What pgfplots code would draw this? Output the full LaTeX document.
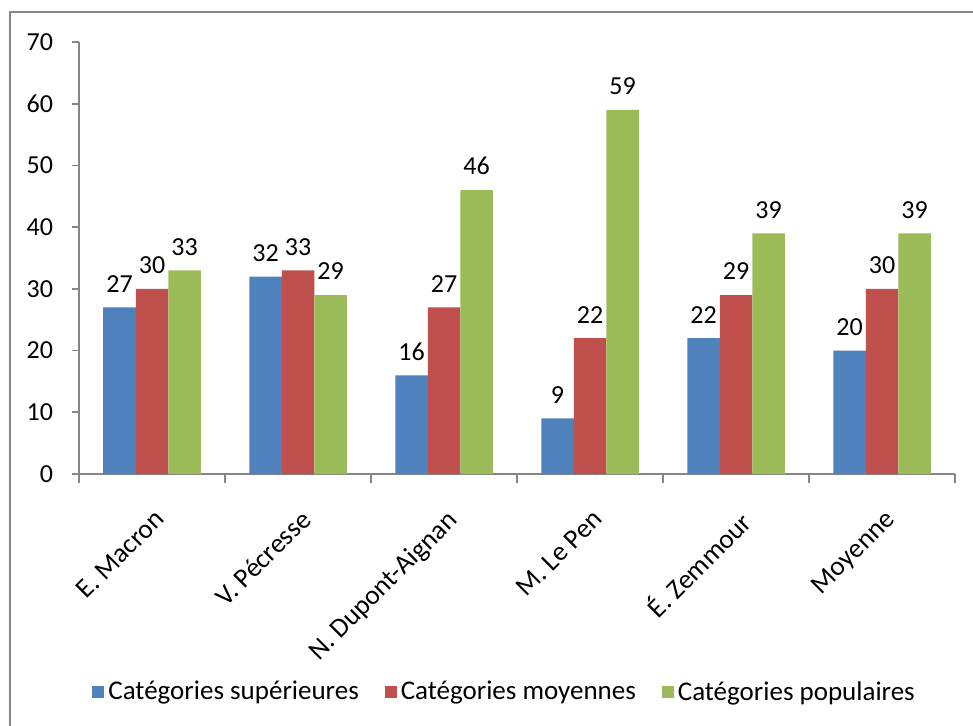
\documentclass[border=0pt]{standalone}
\usepackage{pgfplots}
\pgfplotsset{compat=1.18}
\usepackage{fontspec}
\setmainfont{Carlito}
\definecolor{cblue}{HTML}{4F81BD}
\definecolor{cred}{HTML}{C0504D}
\definecolor{cgreen}{HTML}{9BBB59}
\definecolor{axgray}{HTML}{868686}
\begin{document}
\begin{tikzpicture}
\path[use as bounding box] (0,0) rectangle (486.5pt,-363pt);
\draw[color=axgray, line width=1pt] (5pt,-380pt) -- (5pt,-6pt) -- (495pt,-6pt);
\begin{axis}[
  at={(39.5pt,-237pt)}, anchor=south west,
  scale only axis, width=438pt, height=216pt,
  font=\fontsize{13}{15}\selectfont,
  /pgf/number format/assume math mode=true,
  ybar=0pt, bar width=16.25pt,
  xmin=-0.5, xmax=5.5, ymin=0, ymax=70,
  axis lines=left, axis line style={-, color=axgray, line width=0.8pt},
  tick style={color=axgray, line width=0.8pt},
  tick align=outside,
  xtick={0,...,5},
  xticklabels={E. Macron, V. Pécresse, N. Dupont-Aignan, M. Le Pen, É. Zemmour, Moyenne},
  x tick label style={font=\fontsize{13.6}{16}\selectfont, rotate=45, anchor=north east, inner sep=1pt, yshift=-9pt, xshift=-8pt},
  major x tick style={draw=none},
  minor xtick={-0.5,0.5,...,5.5},
  minor tick length=4.5pt,
  ytick={0,10,...,70},
  major tick length=3.5pt,
  y tick label style={xshift=-6pt},
  nodes near coords,
  nodes near coords style={font=\fontsize{13}{15}\selectfont, color=black, yshift=4pt},
  every axis plot/.append style={draw=none},
  legend columns=3,
  legend style={at={(0.487,-0.505)}, anchor=center, draw=none, font=\fontsize{13.5}{16}\selectfont,
    /tikz/every even column/.append style={column sep=11pt}},
  legend image code/.code={\fill[#1] (0pt,-3pt) rectangle (6pt,3pt);},
]
\addplot[fill=cblue] coordinates {(0,27) (1,32) (2,16) (3,9) (4,22) (5,20)};
\addplot[fill=cred] coordinates {(0,30) (1,33) (2,27) (3,22) (4,29) (5,30)};
\addplot[fill=cgreen] coordinates {(0,33) (1,29) (2,46) (3,59) (4,39) (5,39)};
\legend{Catégories supérieures, Catégories moyennes, Catégories populaires}
\end{axis}
\end{tikzpicture}
\end{document}
